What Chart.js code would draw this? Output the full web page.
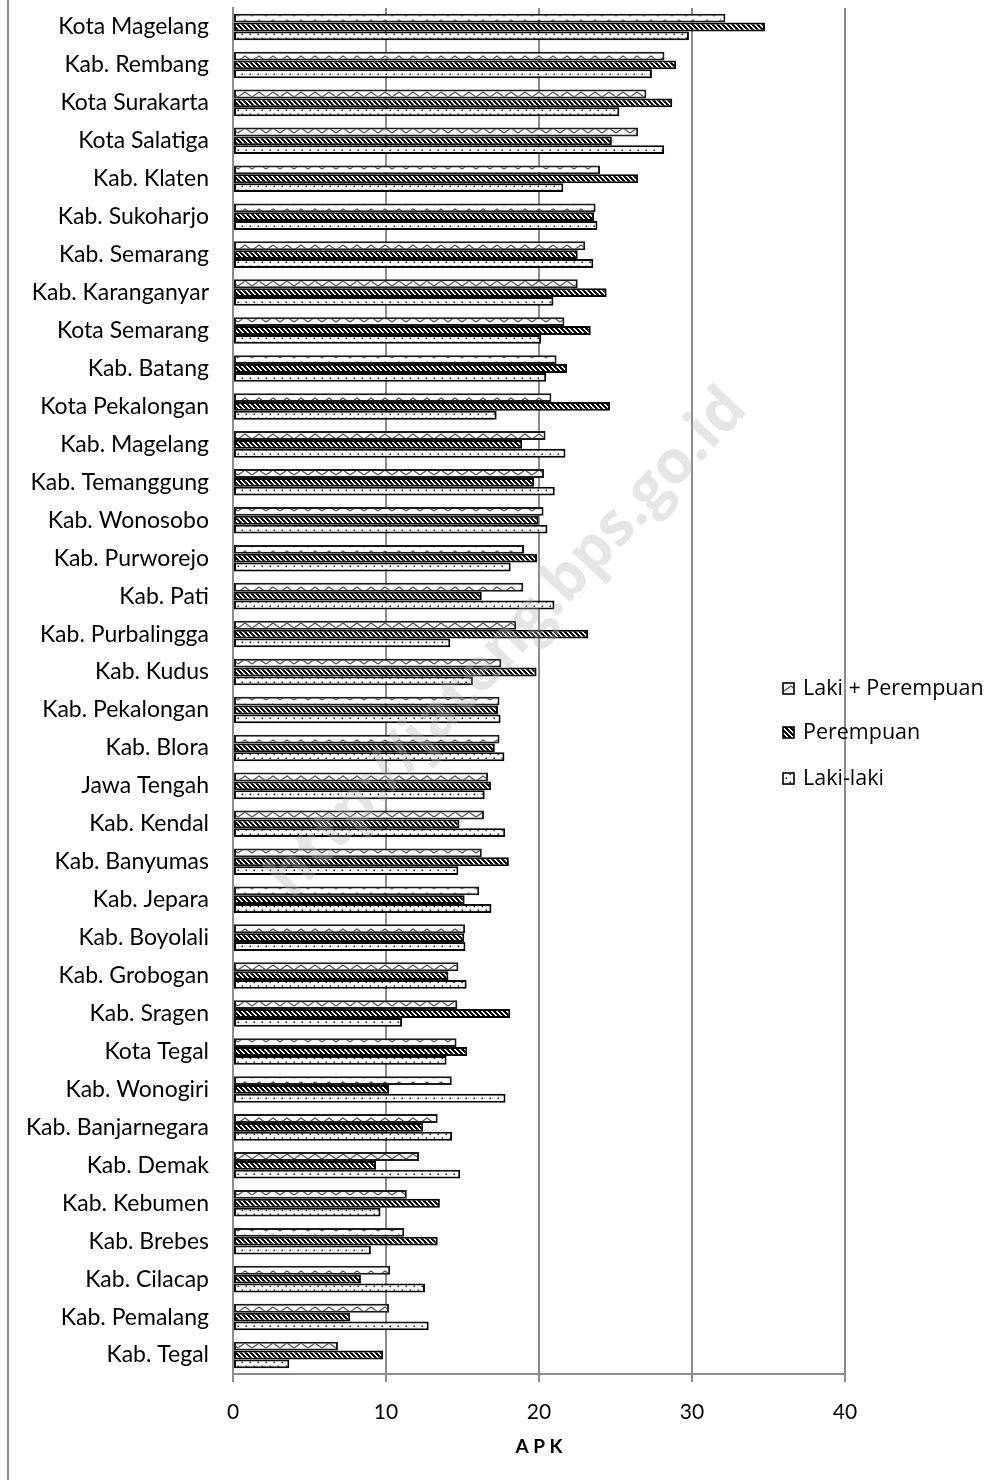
<!DOCTYPE html>
<html><head><meta charset="utf-8">
<script src="https://cdn.jsdelivr.net/npm/chart.js@4.4.1/dist/chart.umd.min.js"></script>
<style>html,body{margin:0;padding:0;background:#fff}#wrap{width:1000px;height:1480px;position:relative}</style>
</head><body><div id="wrap"><canvas id="c"></canvas></div>
<script>
const categories = ["Kota Magelang","Kab. Rembang","Kota Surakarta","Kota Salatiga","Kab. Klaten","Kab. Sukoharjo","Kab. Semarang","Kab. Karanganyar","Kota Semarang","Kab. Batang","Kota Pekalongan","Kab. Magelang","Kab. Temanggung","Kab. Wonosobo","Kab. Purworejo","Kab. Pati","Kab. Purbalingga","Kab. Kudus","Kab. Pekalongan","Kab. Blora","Jawa Tengah","Kab. Kendal","Kab. Banyumas","Kab. Jepara","Kab. Boyolali","Kab. Grobogan","Kab. Sragen","Kota Tegal","Kab. Wonogiri","Kab. Banjarnegara","Kab. Demak","Kab. Kebumen","Kab. Brebes","Kab. Cilacap","Kab. Pemalang","Kab. Tegal"];
const seriesNames = ["Laki + Perempuan","Perempuan","Laki-laki"];
const lakiPerempuan = [32.18,28.2,27.02,26.48,23.99,23.7,23.02,22.53,21.66,21.15,20.81,20.43,20.33,20.3,19.02,18.97,18.51,17.54,17.42,17.42,16.67,16.4,16.26,16.09,15.17,14.73,14.66,14.61,14.3,13.38,12.16,11.36,11.19,10.27,10.2,6.86];
const perempuan = [34.77,28.96,28.71,24.76,26.48,23.6,22.53,24.42,23.38,21.83,24.64,18.9,19.68,19.97,19.87,16.26,23.21,19.84,17.32,17.11,16.86,14.8,18.03,15.14,15.12,14.08,18.12,15.31,10.2,12.43,9.35,13.52,13.38,8.36,7.66,9.81];
const lakiLaki = [29.8,27.38,25.25,28.18,21.59,23.82,23.55,20.94,20.14,20.47,17.23,21.73,21.03,20.55,18.15,21.01,14.2,15.68,17.49,17.74,16.45,17.79,14.73,16.89,15.19,15.27,11.05,13.96,17.81,14.32,14.85,9.64,9.01,12.55,12.79,3.68];
const xTicks = [0,10,20,30,40];
const axisTitle = "A P K";
const watermark = "http://jateng.bps.go.id";

function makePattern(w,h,draw){
  const c=document.createElement('canvas');c.width=w;c.height=h;
  const g=c.getContext('2d');draw(g,w,h);
  return document.getElementById('c').getContext('2d').createPattern(c,'repeat');
}
const zigzag = makePattern(14,9,(g,w,h)=>{
  g.fillStyle='#fff';g.fillRect(0,0,w,h);
  g.strokeStyle='#555';g.lineWidth=1.4;
  g.beginPath();g.moveTo(0,7);g.lineTo(7,2);g.lineTo(14,7);g.stroke();
});
const hatch = makePattern(5,5,(g,w,h)=>{
  g.fillStyle='#000';g.fillRect(0,0,w,h);
  g.fillStyle='#fff';
  for(let i=0;i<5;i++){g.fillRect(i,i,1,1);g.fillRect((i+1)%5,i,1,1);}
});
const dots = makePattern(8,8,(g,w,h)=>{
  g.fillStyle='#fff';g.fillRect(0,0,w,h);
  g.fillStyle='#222';g.fillRect(1.5,1.5,1.6,1.6);g.fillRect(5.5,5.5,1.6,1.6);
});

const borderPlugin = {
  id:'leftBorder',
  afterDraw(chart){
    const ctx=chart.ctx;ctx.save();ctx.strokeStyle='#8c8c8c';ctx.lineWidth=2;
    ctx.beginPath();ctx.moveTo(8,0);ctx.lineTo(8,chart.height);ctx.stroke();ctx.restore();
  }
};
const legendPlugin = {
  id:'customLegend',
  afterDraw(chart){
    const ctx=chart.ctx;ctx.save();
    const ys=[689,733,779];
    chart.data.datasets.forEach((ds,i)=>{
      const y=ys[i];
      ctx.fillStyle=ds.backgroundColor;ctx.fillRect(783,y-6,11,11);
      ctx.strokeStyle='#000';ctx.lineWidth=1.6;ctx.strokeRect(783,y-6,11,11);
      ctx.fillStyle='#000';ctx.font='21.5px "Open Sans"';ctx.textBaseline='middle';ctx.textAlign='left';
      ctx.fillText(ds.label,803,y);
    });
    ctx.restore();
  }
};
const watermarkPlugin = {
  id:'watermark',
  afterDatasetsDraw(chart){
    const ctx=chart.ctx;ctx.save();
    ctx.translate(292,900);ctx.rotate(-0.82);
    ctx.font='bold 60px "Open Sans"';ctx.fillStyle='rgba(180,180,180,0.33)';
    ctx.textBaseline='alphabetic';ctx.textAlign='left';
    ctx.fillText(watermark,0,0);ctx.restore();
  }
};

new Chart(document.getElementById('c'),{
  type:'bar',
  data:{
    labels:categories,
    datasets:[
      {label:seriesNames[0],data:lakiPerempuan,backgroundColor:zigzag,borderColor:'#1a1a1a',borderWidth:2,borderSkipped:false},
      {label:seriesNames[1],data:perempuan,backgroundColor:hatch,borderColor:'#000',borderWidth:2,borderSkipped:false},
      {label:seriesNames[2],data:lakiLaki,backgroundColor:dots,borderColor:'#000',borderWidth:2,borderSkipped:false}
    ]
  },
  options:{
    indexAxis:'y',
    responsive:true,maintainAspectRatio:false,animation:false,
    categoryPercentage:0.7,barPercentage:1.0,
    layout:{padding:{top:8,right:155,bottom:18,left:0}},
    plugins:{legend:{display:false},tooltip:{enabled:false}},
    scales:{
      x:{
        min:xTicks[0],max:xTicks[xTicks.length-1],
        afterBuildTicks(s){s.ticks=xTicks.map(v=>({value:v}));},
        grid:{color:'#8c8c8c',lineWidth:2,tickLength:8},
        border:{color:'#8c8c8c',width:2},
        ticks:{color:'#000',font:{family:'Lato',size:21},padding:18},
        title:{display:true,text:axisTitle,color:'#000',font:{family:'Lato',size:19,weight:'bold'},padding:{top:-8,bottom:4}},
        afterFit(s){s.paddingLeft=0;s.paddingRight=0;}
      },
      y:{
        grid:{display:false,drawTicks:false},
        border:{display:true,color:'#8c8c8c',width:2},
        ticks:{color:'#000',font:{family:'Lato',size:23},padding:24,autoSkip:false},
        afterFit(s){s.width=233;s.paddingTop=0;s.paddingBottom=0;}
      }
    }
  },
  plugins:[borderPlugin,legendPlugin,watermarkPlugin]
});
</script></body></html>
